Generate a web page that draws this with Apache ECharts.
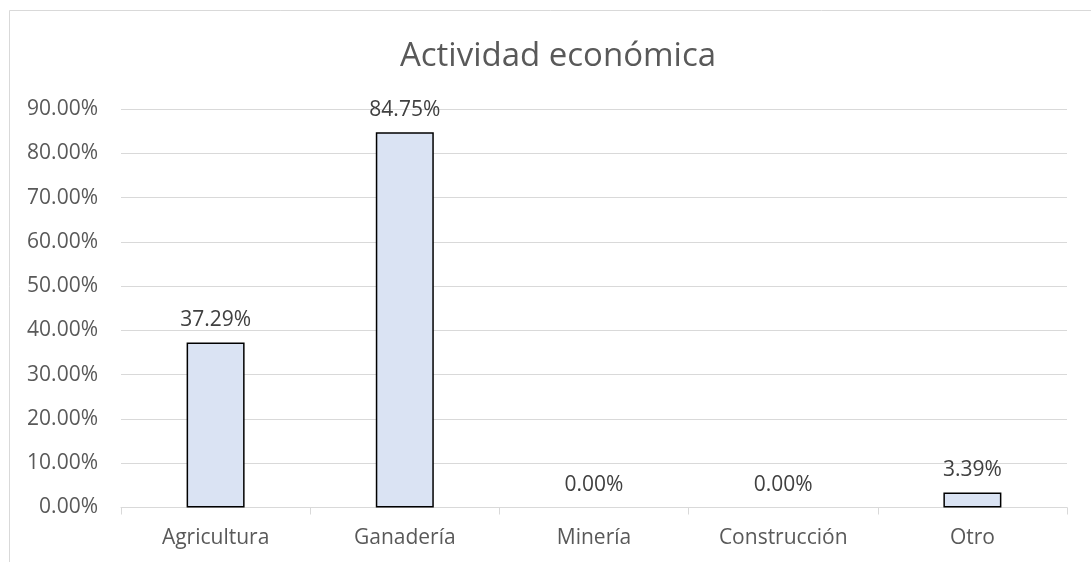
<!DOCTYPE html>
<html>
<head>
<meta charset="utf-8">
<script src="https://cdn.jsdelivr.net/npm/echarts@6/dist/echarts.min.js"></script>
<style>
html,body{margin:0;padding:0;background:#fff;}
#chart{width:1091px;height:562px;}
</style>
</head>
<body>
<div id="chart"></div>
<script>
const title = 'Actividad económica';
const categories = ['Agricultura', 'Ganadería', 'Minería', 'Construcción', 'Otro'];
const values = [37.29, 84.75, 0.00, 0.00, 3.39];
const yMin = 0, yMax = 90, yInterval = 10;

const FONT = '"Open Sans", "Noto Sans", sans-serif';
const chart = echarts.init(document.getElementById('chart'), null, {renderer: 'canvas'});
chart.setOption({
  animation: false,
  backgroundColor: '#ffffff',
  graphic: [{
    type: 'rect', silent: true, z: -10,
    shape: {x: 9.5, y: 10.5, width: 1100, height: 600},
    style: {fill: 'none', stroke: '#d9d9d9', lineWidth: 1}
  }],
  title: {
    text: title, left: 553, top: 35, textAlign: 'center',
    textStyle: {fontFamily: FONT, fontSize: 33, fontWeight: 'normal', color: '#595959'}
  },
  grid: {left: 121, right: 24, top: 109, bottom: 54.5, containLabel: false},
  xAxis: {
    type: 'category', data: categories,
    axisLine: {lineStyle: {color: '#d9d9d9', width: 1}},
    axisTick: {show: true, length: 7, lineStyle: {color: '#d9d9d9'}},
    axisLabel: {fontFamily: FONT, fontSize: 21, color: '#595959', margin: 20}
  },
  yAxis: {
    type: 'value', min: yMin, max: yMax, interval: yInterval,
    axisLine: {show: false}, axisTick: {show: false},
    splitLine: {lineStyle: {color: '#d9d9d9', width: 1}},
    axisLabel: {fontFamily: FONT, fontSize: 21, color: '#595959', margin: 23,
      formatter: v => v.toFixed(2) + '%'}
  },
  series: [{
    type: 'bar',
    barWidth: 58,
    data: values.map(v => v === 0 ? {value: v, itemStyle: {borderWidth: 0}} : v),
    itemStyle: {color: '#dae3f3', borderColor: '#000000', borderWidth: 1.5},
    label: {show: true, position: 'top', distance: 12, fontFamily: FONT, fontSize: 21, color: '#404040',
      formatter: p => p.value.toFixed(2) + '%'}
  }]
});
</script>
</body>
</html>
